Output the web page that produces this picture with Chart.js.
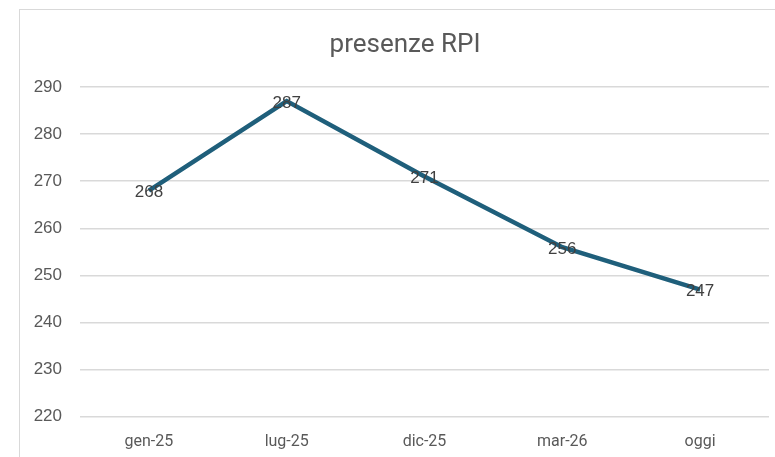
<!DOCTYPE html>
<html>
<head>
<meta charset="utf-8">
<script src="https://cdn.jsdelivr.net/npm/chart.js@4"></script>
<style>
    body { margin: 0; background: #fff; overflow: hidden; }
    #frame {
        position: absolute;
        left: 19px;
        top: 9px;
        width: 800px;
        height: 500px;
        border: 1.5px solid #d9d9d9;
    }
    #rpiChart { position: absolute; left: 0; top: 0; }
</style>
</head>
<body>
<div id="frame"></div>
<canvas id="rpiChart" width="775" height="457"></canvas>
<script>
// dati
const chartTitle = 'presenze RPI';
const categories = ['gen-25', 'lug-25', 'dic-25', 'mar-26', 'oggi'];
const presenze = [268, 287, 271, 256, 247];
const yTicks = [220, 230, 240, 250, 260, 270, 280, 290];

// etichette sui punti
const pointLabels = {
    id: 'pointLabels',
    afterDatasetsDraw(chart) {
        const ctx = chart.ctx;
        const meta = chart.getDatasetMeta(0);
        ctx.save();
        ctx.font = '17px "Liberation Sans", Arial, sans-serif';
        ctx.fillStyle = '#404040';
        ctx.textAlign = 'center';
        ctx.textBaseline = 'middle';
        meta.data.forEach(function(pt, i) {
            ctx.fillText(presenze[i], pt.x, pt.y + 2);
        });
        ctx.restore();
    }
};

// titolo centrato sul riquadro (non sul canvas)
const frameTitle = {
    id: 'frameTitle',
    afterDraw(chart) {
        const ctx = chart.ctx;
        ctx.save();
        ctx.font = '26px "Liberation Sans Narrow", Roboto, sans-serif';
        ctx.fillStyle = '#595959';
        ctx.textAlign = 'center';
        ctx.textBaseline = 'middle';
        ctx.fillText(chartTitle, 405, 45);
        ctx.restore();
    }
};

const ctx = document.getElementById('rpiChart');
const myChart = new Chart(ctx, {
    type: 'line',
    data: {
        labels: categories,
        datasets: [{
            label: chartTitle,
            data: presenze,
            borderColor: '#1f5f7b',
            borderWidth: 4.5,
            pointRadius: 0,
            tension: 0,
            fill: false
        }]
    },
    options: {
        responsive: false,
        maintainAspectRatio: false,
        animation: false,
        layout: {
            padding: { left: 0, right: 6, top: 87, bottom: -11 }
        },
        scales: {
            x: {
                offset: true,
                grid: { display: false, drawTicks: false },
                border: { display: false },
                ticks: {
                    padding: 16,
                    color: '#595959',
                    font: { family: '"Liberation Sans Narrow", Roboto, sans-serif', size: 16 }
                }
            },
            y: {
                min: 220,
                max: 290,
                afterBuildTicks: function(axis) {
                    axis.ticks = yTicks.map(function(v) { return { value: v }; });
                },
                afterFit: function(axis) {
                    axis.width = 80;
                },
                grid: { color: '#d9d9d9', lineWidth: 1.5, drawTicks: false },
                border: { display: false },
                ticks: {
                    padding: 18,
                    color: '#595959',
                    font: { family: '"Liberation Sans", Arial, sans-serif', size: 17 }
                }
            }
        },
        plugins: {
            legend: { display: false },
            tooltip: { enabled: false },
            title: { display: false }
        }
    },
    plugins: [pointLabels, frameTitle]
});
</script>
</body>
</html>
